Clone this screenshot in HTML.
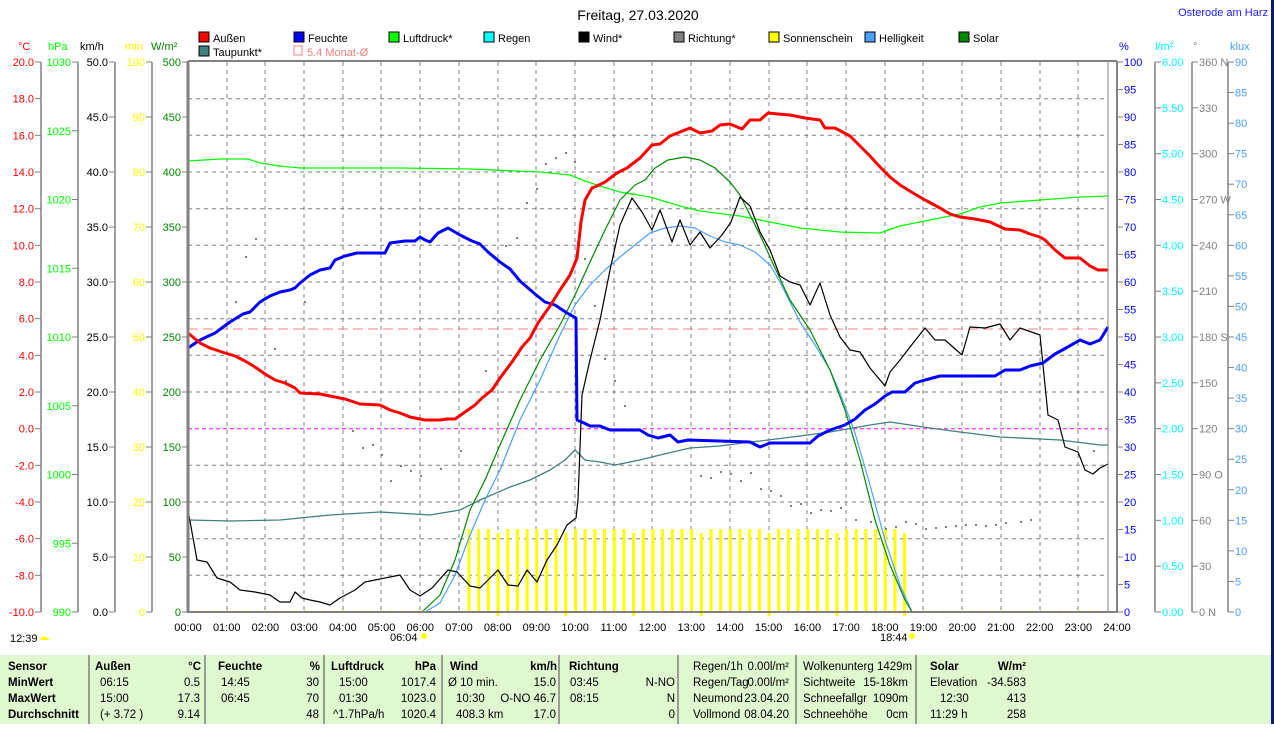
<!DOCTYPE html>
<html><head><meta charset="utf-8"><style>
body{margin:0;background:#fff;width:1274px;height:724px;overflow:hidden;font-family:"Liberation Sans",sans-serif}
svg text{font-family:"Liberation Sans",sans-serif}
</style></head><body>
<svg width="1274" height="724" xmlns="http://www.w3.org/2000/svg" font-size="11">
<rect x="1271" y="0" width="3" height="724" fill="#0a1a6a"/>
<text x="638" y="20" font-size="14" text-anchor="middle" fill="#000">Freitag, 27.03.2020</text>
<text x="1268" y="16" font-size="11" text-anchor="end" fill="#1a1aff">Osterode am Harz</text>
<g font-size="11">
<rect x="199" y="32" width="10" height="10" fill="#f00" stroke="#000"/><text x="213" y="42">Außen</text>
<rect x="294" y="32" width="10" height="10" fill="#00f" stroke="#000"/><text x="308" y="42">Feuchte</text>
<rect x="389" y="32" width="10" height="10" fill="#0f0" stroke="#000"/><text x="403" y="42">Luftdruck*</text>
<rect x="484" y="32" width="10" height="10" fill="#0ff" stroke="#000"/><text x="498" y="42">Regen</text>
<rect x="579" y="32" width="10" height="10" fill="#000" stroke="#000"/><text x="593" y="42">Wind*</text>
<rect x="674" y="32" width="10" height="10" fill="#808080" stroke="#000"/><text x="688" y="42">Richtung*</text>
<rect x="769" y="32" width="10" height="10" fill="#ff0" stroke="#000"/><text x="783" y="42">Sonnenschein</text>
<rect x="865" y="32" width="10" height="10" fill="#4aa0ff" stroke="#000"/><text x="879" y="42">Helligkeit</text>
<rect x="959" y="32" width="10" height="10" fill="#080" stroke="#000"/><text x="973" y="42">Solar</text>
<rect x="199" y="46" width="10" height="10" fill="#408080" stroke="#000"/><text x="213" y="56">Taupunkt*</text>
<rect x="294" y="46" width="8" height="9" fill="none" stroke="#f08080"/><text x="307" y="56" fill="#f08080">5.4 Monat-Ø</text>
</g>
<g font-size="11">
<text x="18" y="50" fill="#f00">°C</text><text x="48" y="50" fill="#0f0">hPa</text><text x="80" y="50" fill="#000">km/h</text>
<text x="125" y="50" fill="#ff0">min</text><text x="151" y="50" fill="#080">W/m²</text>
<text x="1119" y="50" fill="#00f">%</text><text x="1155" y="50" fill="#0ff">l/m²</text><text x="1193" y="50" fill="#808080">°</text><text x="1230" y="50" fill="#4aa0ff">klux</text>
</g>
<g stroke="#808080" stroke-dasharray="4,4" stroke-width="1">
<line x1="227" y1="62" x2="227" y2="612"/><line x1="265" y1="62" x2="265" y2="612"/><line x1="304" y1="62" x2="304" y2="612"/><line x1="343" y1="62" x2="343" y2="612"/><line x1="381" y1="62" x2="381" y2="612"/><line x1="420" y1="62" x2="420" y2="612"/><line x1="459" y1="62" x2="459" y2="612"/><line x1="498" y1="62" x2="498" y2="612"/><line x1="536" y1="62" x2="536" y2="612"/><line x1="575" y1="62" x2="575" y2="612"/><line x1="614" y1="62" x2="614" y2="612"/><line x1="652" y1="62" x2="652" y2="612"/><line x1="691" y1="62" x2="691" y2="612"/><line x1="730" y1="62" x2="730" y2="612"/><line x1="769" y1="62" x2="769" y2="612"/><line x1="807" y1="62" x2="807" y2="612"/><line x1="846" y1="62" x2="846" y2="612"/><line x1="885" y1="62" x2="885" y2="612"/><line x1="923" y1="62" x2="923" y2="612"/><line x1="962" y1="62" x2="962" y2="612"/><line x1="1001" y1="62" x2="1001" y2="612"/><line x1="1040" y1="62" x2="1040" y2="612"/><line x1="1078" y1="62" x2="1078" y2="612"/>
<line x1="188" y1="98.7" x2="1108" y2="98.7"/><line x1="188" y1="135.3" x2="1108" y2="135.3"/><line x1="188" y1="172" x2="1108" y2="172"/><line x1="188" y1="208.7" x2="1108" y2="208.7"/><line x1="188" y1="245.3" x2="1108" y2="245.3"/><line x1="188" y1="282" x2="1108" y2="282"/><line x1="188" y1="318.7" x2="1108" y2="318.7"/><line x1="188" y1="355.3" x2="1108" y2="355.3"/><line x1="188" y1="392" x2="1108" y2="392"/><line x1="188" y1="465.3" x2="1108" y2="465.3"/><line x1="188" y1="502" x2="1108" y2="502"/><line x1="188" y1="538.7" x2="1108" y2="538.7"/><line x1="188" y1="575.3" x2="1108" y2="575.3"/>
</g>
<line x1="188" y1="428.7" x2="1108" y2="428.7" stroke="#f0f" stroke-dasharray="4,3"/>
<line x1="188" y1="329" x2="1108" y2="329" stroke="#f08080" stroke-dasharray="10,5"/>
<g id="sun" fill="#ff0"></g>
<g fill="#808080">
<rect x="255" y="238" width="2" height="2"/><rect x="245" y="256" width="2" height="2"/><rect x="235" y="301" width="2" height="2"/><rect x="274" y="348" width="2" height="2"/><rect x="285" y="380" width="2" height="2"/><rect x="304" y="301" width="2" height="2"/><rect x="352" y="430" width="2" height="2"/><rect x="362" y="447" width="2" height="2"/><rect x="372" y="444" width="2" height="2"/><rect x="381" y="454" width="2" height="2"/><rect x="390" y="480" width="2" height="2"/><rect x="400" y="465" width="2" height="2"/><rect x="410" y="470" width="2" height="2"/><rect x="420" y="475" width="2" height="2"/><rect x="440" y="468" width="2" height="2"/><rect x="460" y="450" width="2" height="2"/><rect x="485" y="370" width="2" height="2"/><rect x="505" y="245" width="2" height="2"/><rect x="516" y="237" width="2" height="2"/><rect x="526" y="202" width="2" height="2"/><rect x="536" y="188" width="2" height="2"/><rect x="545" y="163" width="2" height="2"/><rect x="555" y="157" width="2" height="2"/><rect x="565" y="152" width="2" height="2"/><rect x="574" y="161" width="2" height="2"/><rect x="584" y="258" width="2" height="2"/><rect x="594" y="305" width="2" height="2"/><rect x="604" y="358" width="2" height="2"/><rect x="614" y="380" width="2" height="2"/><rect x="624" y="405" width="2" height="2"/><rect x="700" y="475" width="2" height="2"/><rect x="710" y="477" width="2" height="2"/><rect x="720" y="471" width="2" height="2"/><rect x="730" y="473" width="2" height="2"/><rect x="740" y="480" width="2" height="2"/><rect x="750" y="472" width="2" height="2"/><rect x="760" y="488" width="2" height="2"/><rect x="770" y="490" width="2" height="2"/><rect x="780" y="495" width="2" height="2"/><rect x="790" y="505" width="2" height="2"/><rect x="800" y="503" width="2" height="2"/><rect x="810" y="512" width="2" height="2"/><rect x="820" y="509" width="2" height="2"/><rect x="830" y="510" width="2" height="2"/><rect x="840" y="507" width="2" height="2"/><rect x="855" y="519" width="2" height="2"/><rect x="870" y="521" width="2" height="2"/><rect x="885" y="528" width="2" height="2"/><rect x="895" y="526" width="2" height="2"/><rect x="905" y="521" width="2" height="2"/><rect x="915" y="523" width="2" height="2"/><rect x="925" y="528" width="2" height="2"/><rect x="935" y="527" width="2" height="2"/><rect x="945" y="526" width="2" height="2"/><rect x="955" y="525" width="2" height="2"/><rect x="965" y="524" width="2" height="2"/><rect x="975" y="524" width="2" height="2"/><rect x="985" y="525" width="2" height="2"/><rect x="995" y="524" width="2" height="2"/><rect x="1005" y="522" width="2" height="2"/><rect x="1020" y="521" width="2" height="2"/><rect x="1030" y="519" width="2" height="2"/><rect x="1093" y="450" width="2" height="2"/>
</g>
<g fill="none" stroke-linejoin="round">
<polyline stroke="#408080" stroke-width="1.3" points="188,520 230,521 280,520 330,515 380,512 430,515 460,510 480,500 510,487 530,480 550,470 565,460 575,450 585,460 600,462 615,465 640,460 660,455 690,448 720,446 750,442 760,441 800,436 830,432 870,425 890,422 930,428 960,432 1000,437 1060,440 1100,445 1108,445"/>
<polyline stroke="#0f0" stroke-width="1.3" points="188,161 220,159 248,159 260,163 280,166 300,168 400,168 470,169 540,172 570,175 585,181 600,186 620,192 650,197 680,206 700,211 740,216 770,222 800,228 840,232 880,233 900,226 940,218 960,214 980,207 1000,203 1040,200 1080,197 1108,196"/>
<polyline stroke="#4aa0ff" stroke-width="1.2" points="425,612 440,603 455,575 470,535 485,500 500,470 520,420 540,380 560,335 575,305 590,285 605,270 620,257 635,245 650,233 665,228 680,226 695,228 710,236 725,242 740,245 755,252 770,265 780,282 790,302 800,322 815,345 830,370 840,393 855,433 870,485 885,540 900,585 912,612"/>
<polyline stroke="#080" stroke-width="1.2" points="422,612 440,595 455,560 470,510 485,480 500,445 520,400 540,360 560,325 575,295 590,262 605,230 620,200 635,185 645,180 655,168 668,160 685,157 700,160 715,168 730,182 740,195 750,215 760,235 775,268 790,300 810,330 830,370 845,410 860,460 875,520 890,565 905,600 912,612"/>
<polyline stroke="#000" stroke-width="1.2" points="188,510 197,560 207,562 217,578 230,582 240,590 255,592 270,595 280,602 290,602 295,592 302,598 310,600 320,602 330,605 340,598 355,590 365,582 375,580 390,577 400,575 410,590 420,596 432,588 448,570 457,572 470,586 480,588 498,570 508,585 518,586 527,570 537,582 547,560 557,545 567,525 576,518 578,500 582,395 590,360 600,320 610,270 620,225 632,198 642,212 652,230 660,210 672,242 680,220 690,245 700,232 710,248 722,235 731,222 740,197 750,206 760,232 770,250 780,276 790,282 800,285 810,305 820,283 830,315 840,337 850,350 860,352 870,368 885,386 890,372 900,360 910,347 925,328 935,340 945,340 962,355 970,327 985,328 1000,324 1010,340 1020,328 1040,335 1048,415 1058,420 1065,447 1078,452 1085,470 1093,474 1100,468 1108,464"/>
<polyline stroke="#00f" stroke-width="3" points="188,348 200,340 215,333 230,322 243,314 250,312 260,302 270,296 280,292 290,290 295,288 300,283 310,275 320,270 330,268 335,260 345,256 357,253 385,253 390,243 405,241 415,241 420,237 425,240 430,242 438,233 448,228 460,235 472,241 480,244 488,252 500,262 510,269 520,281 535,294 545,302 555,305 567,313 576,318 577,420 584,423 590,426 600,426 610,430 640,430 648,435 658,438 670,435 678,442 688,440 750,442 760,447 770,443 810,443 818,436 830,430 845,425 855,419 865,410 875,404 885,396 892,392 905,392 915,383 925,380 940,376 995,376 1005,370 1020,370 1030,366 1043,363 1055,354 1066,348 1080,340 1090,344 1100,340 1108,327"/>
<polyline stroke="#f00" stroke-width="3" points="188,333 200,343 210,348 225,353 235,356 245,361 255,367 265,374 275,380 285,383 295,388 300,393 320,394 345,399 360,404 380,405 390,410 400,413 410,417 425,420 440,420 447,419 455,419 465,412 475,405 482,398 492,390 500,378 512,362 522,347 530,338 538,323 550,306 560,290 570,275 577,258 581,222 585,200 592,188 597,186 605,182 617,173 627,168 640,158 652,145 660,144 670,136 690,128 700,133 712,131 720,125 730,124 742,129 750,120 760,120 768,113 778,114 790,115 805,118 820,120 825,128 835,128 850,136 860,146 870,156 880,167 890,177 900,185 913,193 925,200 940,208 950,214 960,217 975,219 990,222 1005,229 1020,230 1030,234 1040,237 1045,240 1055,250 1065,258 1080,258 1090,266 1098,270 1108,270"/>
</g>
<line x1="188" y1="61" x2="1117" y2="61" stroke="#808080" stroke-width="2"/>
<line x1="188" y1="612" x2="1117" y2="612" stroke="#808080" stroke-width="2"/>
<line x1="188" y1="61" x2="188" y2="613" stroke="#808080" stroke-width="3"/>
<line x1="1117" y1="61" x2="1117" y2="613" stroke="#808080" stroke-width="2"/>
<line x1="1108" y1="61" x2="1108" y2="612" stroke="#808080" stroke-width="1"/>
<g id="axes"></g>
<g font-size="11" text-anchor="middle" id="hours"></g>
<text x="10" y="642" font-size="11">12:39</text><path d="M40 640 a4 3 0 0 1 9 0 z" fill="#ff0"/>
<text x="390" y="641" font-size="11">06:04</text><circle cx="424" cy="636" r="3" fill="#ff0"/>
<text x="880" y="641" font-size="11">18:44</text><circle cx="912" cy="636" r="3" fill="#ff0"/>
<rect x="0" y="655" width="1271" height="69" fill="#e0f8d0"/>
<g stroke="#808080" stroke-width="1.5"><line x1="89" y1="655" x2="89" y2="724"/><line x1="205" y1="655" x2="205" y2="724"/><line x1="324" y1="655" x2="324" y2="724"/><line x1="442" y1="655" x2="442" y2="724"/><line x1="559" y1="655" x2="559" y2="724"/><line x1="678" y1="655" x2="678" y2="724"/><line x1="796" y1="655" x2="796" y2="724"/><line x1="916" y1="655" x2="916" y2="724"/></g>
<g font-size="11.5">
<g font-weight="bold"><text x="8" y="670">Sensor</text><text x="8" y="686">MinWert</text><text x="8" y="702">MaxWert</text><text x="8" y="718">Durchschnitt</text>
<text x="95" y="670">Außen</text><text x="201" y="670" text-anchor="end">°C</text><text x="218" y="670">Feuchte</text><text x="320" y="670" text-anchor="end">%</text>
<text x="331" y="670">Luftdruck</text><text x="436" y="670" text-anchor="end">hPa</text><text x="450" y="670">Wind</text><text x="557" y="670" text-anchor="end">km/h</text><text x="569" y="670">Richtung</text>
<text x="930" y="670">Solar</text><text x="1026" y="670" text-anchor="end">W/m²</text></g>
<text x="100" y="686">06:15</text><text x="200" y="686" text-anchor="end">0.5</text><text x="221" y="686">14:45</text><text x="319" y="686" text-anchor="end">30</text><text x="339" y="686">15:00</text><text x="436" y="686" text-anchor="end">1017.4</text><text x="448" y="686">Ø 10 min.</text><text x="556" y="686" text-anchor="end">15.0</text><text x="570" y="686">03:45</text><text x="675" y="686" text-anchor="end">N-NO</text>
<text x="100" y="702">15:00</text><text x="200" y="702" text-anchor="end">17.3</text><text x="221" y="702">06:45</text><text x="319" y="702" text-anchor="end">70</text><text x="339" y="702">01:30</text><text x="436" y="702" text-anchor="end">1023.0</text><text x="456" y="702">10:30</text><text x="556" y="702" text-anchor="end">O-NO 46.7</text><text x="570" y="702">08:15</text><text x="675" y="702" text-anchor="end">N</text>
<text x="100" y="718">(+ 3.72 )</text><text x="200" y="718" text-anchor="end">9.14</text><text x="319" y="718" text-anchor="end">48</text><text x="333" y="718">^1.7hPa/h</text><text x="436" y="718" text-anchor="end">1020.4</text><text x="456" y="718">408.3 km</text><text x="556" y="718" text-anchor="end">17.0</text><text x="675" y="718" text-anchor="end">0</text>
<text x="693" y="670">Regen/1h</text><text x="789" y="670" text-anchor="end">0.00l/m²</text><text x="693" y="686">Regen/Tag</text><text x="789" y="686" text-anchor="end">0.00l/m²</text><text x="693" y="702">Neumond</text><text x="789" y="702" text-anchor="end">23.04.20</text><text x="693" y="718">Vollmond</text><text x="789" y="718" text-anchor="end">08.04.20</text>
<text x="803" y="670">Wolkenunterg 1429m</text><text x="803" y="686">Sichtweite</text><text x="908" y="686" text-anchor="end">15-18km</text><text x="803" y="702">Schneefallgr</text><text x="908" y="702" text-anchor="end">1090m</text><text x="803" y="718">Schneehöhe</text><text x="908" y="718" text-anchor="end">0cm</text>
<text x="930" y="686">Elevation</text><text x="1026" y="686" text-anchor="end">-34.583</text><text x="940" y="702">12:30</text><text x="1026" y="702" text-anchor="end">413</text><text x="930" y="718">11:29 h</text><text x="1026" y="718" text-anchor="end">258</text>
</g>
</svg>
<script>
var NS="http://www.w3.org/2000/svg";
function el(p,t,a,txt){var e=document.createElementNS(NS,t);for(var k in a)e.setAttribute(k,a[k]);if(txt!==undefined)e.textContent=txt;p.appendChild(e);return e;}
var sun=document.getElementById("sun");
for(var i=0;i<46;i++){var x=469+i*9.68;el(sun,"rect",{x:x-1.5,y:(i%7==3?533:529),width:3,height:612-529});}
for(var i=0;i<96;i++){var x=188+i*9.68;el(sun,"rect",{x:x,y:610,width:1,height:1});}
var h=document.getElementById("hours");
for(var i=0;i<=24;i++){var x=188+i*38.71;el(h,"text",{x:x,y:631},(i<10?"0":"")+i+":00");}
var ax=document.getElementById("axes");
function axis(lx,n,labels,color,side,top,bot){
 el(ax,"line",{x1:lx,y1:top,x2:lx,y2:bot,stroke:"#808080","stroke-width":1.5});
 for(var i=0;i<=n;i++){var y=bot-(bot-top)*i/n;
  if(side<0){el(ax,"line",{x1:lx-6,y1:y,x2:lx,y2:y,stroke:"#808080"});}
  else{el(ax,"line",{x1:lx,y1:y,x2:lx+6,y2:y,stroke:"#808080"});}
  var l=labels(i);if(l===null)continue;
  if(side<0)el(ax,"text",{x:lx-7,y:y+4,"text-anchor":"end",fill:color,"font-size":11},l);
  else el(ax,"text",{x:lx+7,y:y+4,fill:color,"font-size":11},l);
 }}
axis(41,15,function(i){return (-10+2*i).toFixed(1)},"#f00",-1,62,612);
axis(78,8,function(i){return String(990+5*i)},"#0f0",-1,62,612);
axis(115,10,function(i){return (5*i).toFixed(1)},"#000",-1,62,612);
axis(152,10,function(i){return String(10*i)},"#ff0",-1,62,612);
axis(188,10,function(i){return String(50*i)},"#080",-1,62,612);
axis(1117,20,function(i){return String(5*i)},"#00f",1,62,612);
axis(1155,12,function(i){return (0.5*i).toFixed(2)},"#0ff",1,62,612);
var dirs={0:"0   N",3:"90  O",6:"180 S",9:"270 W",12:"360 N"};
axis(1192,12,function(i){return dirs[i]!==undefined?dirs[i]:String(30*i)},"#808080",1,62,612);
axis(1228,18,function(i){return String(5*i)},"#4aa0ff",1,62,612);
</script>
</body></html>
